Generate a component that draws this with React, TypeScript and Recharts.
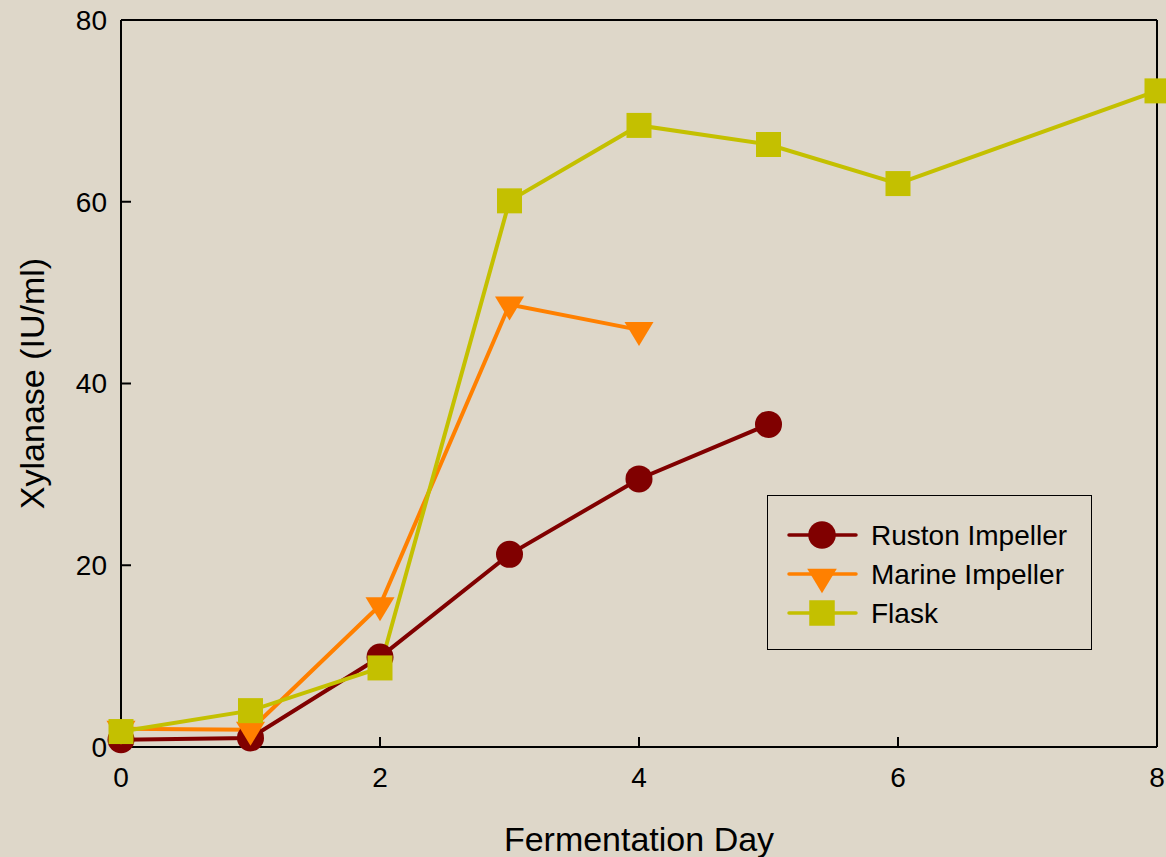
import React from 'react';
import { LineChart, Line, XAxis, YAxis, Legend, ReferenceLine } from 'recharts';

const days = [0, 1, 2, 3, 4, 5, 6, 8];
const ruston = [0.8, 1.0, 9.9, 21.2, 29.5, 35.5, null, null];
const marine = [2.0, 1.9, 15.6, 48.7, 45.9, null, null, null];
const flask = [1.7, 4.0, 8.7, 60.1, 68.4, 66.3, 62.0, 72.2];

const xTicks = [0, 2, 4, 6, 8];
const yTicks = [0, 20, 40, 60, 80];

const seriesNames = ['Ruston Impeller', 'Marine Impeller', 'Flask'];
const seriesKeys = ['ruston', 'marine', 'flask'];
const seriesColors = ['#800000', '#ff8000', '#c4c000'];
const seriesShapes = ['circle', 'triangle', 'square'];

const data = days.map((d, i) => ({ day: d, ruston: ruston[i], marine: marine[i], flask: flask[i] }));

const BG = '#ded7c9';
const FONT = '"Liberation Sans", Arial, sans-serif';

function Marker({ shape, cx, cy, color, scale = 1 }: any) {
  if (cx == null || cy == null || isNaN(cx) || isNaN(cy)) return <g />;
  if (shape === 'circle') return <circle cx={cx} cy={cy} r={13.5 * scale} fill={color} />;
  if (shape === 'square') {
    const s = 25 * scale;
    return <rect x={cx - s / 2} y={cy - s / 2} width={s} height={s} fill={color} />;
  }
  const w = 29 * scale;
  const h = 24 * scale;
  return (
    <polygon
      points={`${cx - w / 2},${cy - h / 3} ${cx + w / 2},${cy - h / 3} ${cx},${cy + (2 * h) / 3}`}
      fill={color}
    />
  );
}

function LegendBox({ payload }: any) {
  const raw = (payload && payload.length ? payload : seriesNames.map((n, i) => ({ value: n, color: seriesColors[i] }))) as any[];
  const items = [...raw].sort((a, b) => seriesNames.indexOf(a.value) - seriesNames.indexOf(b.value));
  return (
    <div
      style={{
        width: 323,
        height: 153,
        border: '1.5px solid #000',
        background: BG,
        boxSizing: 'content-box',
        fontFamily: FONT,
      }}
    >
      <svg width={323} height={153} style={{ display: 'block' }}>
        {items.map((it, i) => {
          const idx = Math.max(0, seriesNames.indexOf(it.value));
          const color = seriesColors[idx];
          const y = 39 + i * 39;
          return (
            <g key={it.value}>
              <line x1={21} x2={88} y1={y} y2={y} stroke={color} strokeWidth={3.5} strokeLinecap="round" />
              <Marker shape={seriesShapes[idx]} cx={54} cy={seriesShapes[idx] === 'triangle' ? y + 3 : y} color={color} scale={1.02} />
              <text x={103} y={y + 10} fontSize={28} fill="#000" fontFamily={FONT}>
                {it.value}
              </text>
            </g>
          );
        })}
      </svg>
    </div>
  );
}

export default function App() {
  return (
    <div style={{ position: 'absolute', left: 0, top: 0, width: 1166, height: 857, background: BG }}>
      <LineChart
        width={1166}
        height={857}
        data={data}
        margin={{ top: 20, right: 9, bottom: 0, left: 0 }}
        style={{ fontFamily: FONT, background: BG }}
      >
        <XAxis
          dataKey="day"
          type="number"
          domain={[0, 8]}
          ticks={xTicks}
          height={110}
          tickSize={-10}
          tickMargin={30}
          tick={{ fill: '#000', fontSize: 28 }}
          tickLine={{ stroke: '#000', strokeWidth: 2 }}
          axisLine={{ stroke: '#000', strokeWidth: 2 }}
          label={{ value: 'Fermentation Day', position: 'insideBottom', offset: 6, fontSize: 34, fill: '#000' }}
        />
        <YAxis
          type="number"
          domain={[0, 80]}
          ticks={yTicks}
          width={121}
          tickSize={-10}
          tickMargin={24}
          tick={{ fill: '#000', fontSize: 28 }}
          tickLine={{ stroke: '#000', strokeWidth: 2 }}
          axisLine={{ stroke: '#000', strokeWidth: 2 }}
          label={{
            value: 'Xylanase (IU/ml)',
            angle: -90,
            position: 'insideLeft',
            offset: 32,
            fontSize: 34,
            fill: '#000',
            style: { textAnchor: 'middle' },
          }}
        />
        <ReferenceLine y={80} stroke="#000" strokeWidth={2} ifOverflow="visible" />
        <ReferenceLine x={8} stroke="#000" strokeWidth={2} ifOverflow="visible" />
        {seriesKeys.map((k, i) => (
          <Line
            key={k}
            dataKey={k}
            name={seriesNames[i]}
            stroke={seriesColors[i]}
            strokeWidth={4}
            isAnimationActive={false}
            dot={(p: any) => <Marker key={`${k}-${p.index}`} shape={seriesShapes[i]} cx={p.cx} cy={p.cy} color={seriesColors[i]} />}
            activeDot={false}
          />
        ))}
        <Legend
          layout="horizontal"
          verticalAlign="middle"
          align="center"
          content={(props: any) => <LegendBox payload={props.payload} />}
          wrapperStyle={{ position: 'absolute', left: 767, top: 495, width: 'auto', height: 'auto' }}
        />
      </LineChart>
    </div>
  );
}
